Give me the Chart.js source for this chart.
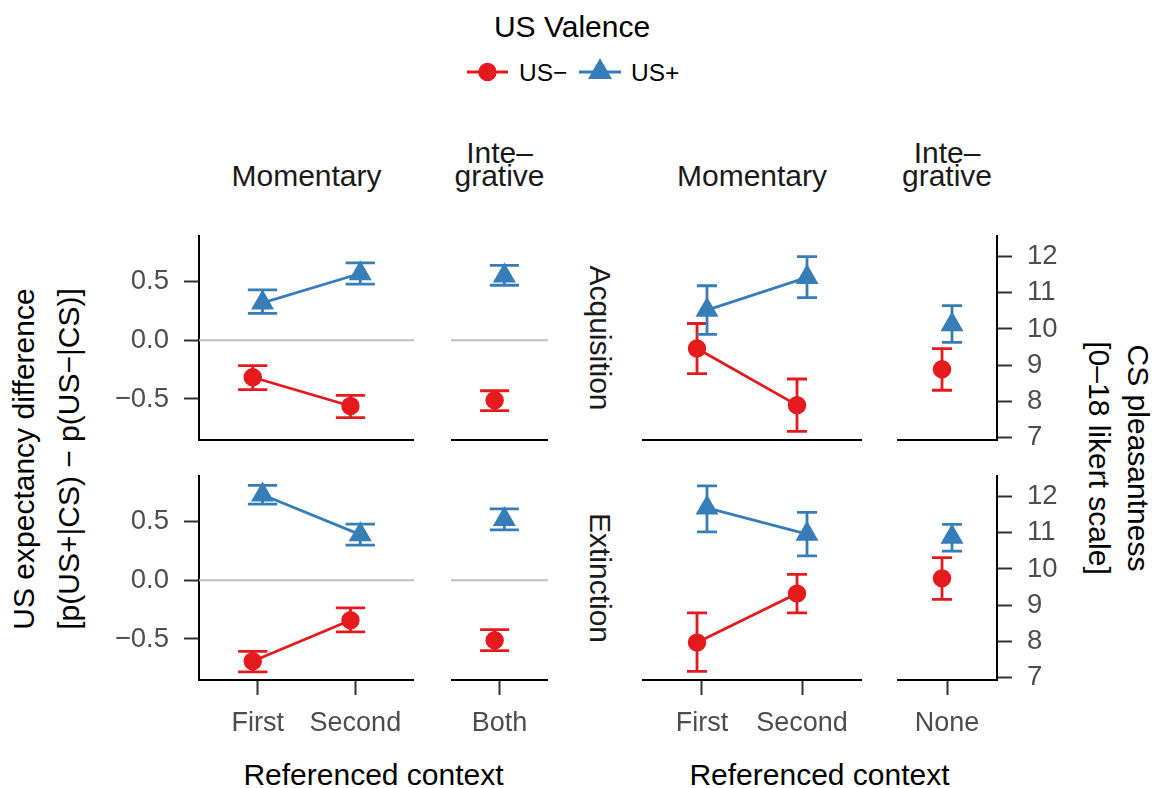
<!DOCTYPE html>
<html>
<head>
<meta charset="utf-8">
<script src="https://cdn.jsdelivr.net/npm/chart.js@4.4.1/dist/chart.umd.min.js"></script>
<style>
  body { margin: 0; background: #fff; width: 1154px; height: 788px; position: relative; overflow: hidden;
         font-family: "Liberation Sans", Arial, sans-serif; }
  .panel { position: absolute; }
  .txt { position: absolute; white-space: nowrap; }
</style>
</head>
<body>
<script>
// categories
const momentaryContexts = ['First', 'Second'];
const integrativeExpContexts = ['Both'];
const integrativePlsContexts = ['None'];
const seriesNames = ['US−', 'US+'];
const phases = ['Acquisition', 'Extinction'];

// US expectancy difference (mean, lower, upper) - Acquisition
const expAcqMomNeg = [-0.315, -0.56], expAcqMomNegLo = [-0.42, -0.66], expAcqMomNegHi = [-0.215, -0.47];
const expAcqMomPos = [0.32, 0.57],   expAcqMomPosLo = [0.23, 0.48],   expAcqMomPosHi = [0.43, 0.66];
const expAcqIntNeg = [-0.51],        expAcqIntNegLo = [-0.60],        expAcqIntNegHi = [-0.43];
const expAcqIntPos = [0.55],         expAcqIntPosLo = [0.47],         expAcqIntPosHi = [0.64];
// Extinction
const expExtMomNeg = [-0.69, -0.34], expExtMomNegLo = [-0.78, -0.44], expExtMomNegHi = [-0.605, -0.235];
const expExtMomPos = [0.73, 0.39],   expExtMomPosLo = [0.65, 0.30],   expExtMomPosHi = [0.81, 0.48];
const expExtIntNeg = [-0.51],        expExtIntNegLo = [-0.60],        expExtIntNegHi = [-0.42];
const expExtIntPos = [0.52],         expExtIntPosLo = [0.43],         expExtIntPosHi = [0.61];

// CS pleasantness (mean, lower, upper) - Acquisition
const plsAcqMomNeg = [9.46, 7.9],    plsAcqMomNegLo = [8.77, 7.18],   plsAcqMomNegHi = [10.15, 8.62];
const plsAcqMomPos = [10.52, 11.42], plsAcqMomPosLo = [9.85, 10.86],  plsAcqMomPosHi = [11.19, 11.99];
const plsAcqIntNeg = [8.89],         plsAcqIntNegLo = [8.31],         plsAcqIntNegHi = [9.46];
const plsAcqIntPos = [10.12],        plsAcqIntPosLo = [9.63],         plsAcqIntPosHi = [10.64];
// Extinction
const plsExtMomNeg = [7.97, 9.32],   plsExtMomNegLo = [7.18, 8.79],   plsExtMomNegHi = [8.79, 9.85];
const plsExtMomPos = [11.68, 10.96], plsExtMomPosLo = [11.02, 10.36], plsExtMomPosHi = [12.29, 11.56];
const plsExtIntNeg = [9.74],         plsExtIntNegLo = [9.16],         plsExtIntNegHi = [10.31];
const plsExtIntPos = [10.88],        plsExtIntPosLo = [10.49],        plsExtIntPosHi = [11.23];

// axis ranges / ticks
const expRange = [-0.85, 0.89], expStep = 0.5;
const plsRange = [6.94, 12.56], plsStep = 1;

const RED = '#E41A1C', BLUE = '#377EB8';
const FONT = '"Liberation Sans", Arial, sans-serif';
Chart.defaults.font.family = FONT;

// error bars + zero reference line, drawn with the chart's scales
const errorBars = {
  id: 'errorBars',
  beforeDatasetsDraw(chart, args, opts) {
    const { ctx, chartArea, scales: { x, y } } = chart;
    ctx.save();
    if (opts.zeroLine) {
      const y0 = y.getPixelForValue(0);
      ctx.strokeStyle = '#BEBEBE';
      ctx.lineWidth = 2;
      ctx.beginPath();
      ctx.moveTo(chartArea.left, y0);
      ctx.lineTo(chartArea.right, y0);
      ctx.stroke();
    }
    chart.data.datasets.forEach(ds => {
      ctx.strokeStyle = ds.borderColor;
      ctx.lineWidth = 2.8;
      ds.data.forEach((pt, i) => {
        const px = x.getPixelForValue(pt.x);
        const half = x.getPixelForValue(pt.x + opts.cap / 2) - px;
        const lo = y.getPixelForValue(ds.errLo[i]);
        const hi = y.getPixelForValue(ds.errHi[i]);
        ctx.beginPath();
        ctx.moveTo(px, lo); ctx.lineTo(px, hi);
        ctx.moveTo(px - half, lo); ctx.lineTo(px + half, lo);
        ctx.moveTo(px - half, hi); ctx.lineTo(px + half, hi);
        ctx.stroke();
      });
    });
    ctx.restore();
  }
};

const panels = [
  { rect: [199, 236, 414, 440], row: 0, cats: momentaryContexts, xr: [0.4, 2.6], y: 'exp', axis: 'left', cap: 0.3,
    neg: [expAcqMomNeg, expAcqMomNegLo, expAcqMomNegHi], pos: [expAcqMomPos, expAcqMomPosLo, expAcqMomPosHi] },
  { rect: [451, 236, 548, 440], row: 0, cats: integrativeExpContexts, xr: [0.5, 1.5], y: 'exp', axis: null, cap: 0.3,
    neg: [expAcqIntNeg, expAcqIntNegLo, expAcqIntNegHi], pos: [expAcqIntPos, expAcqIntPosLo, expAcqIntPosHi] },
  { rect: [642, 236, 862, 440], row: 0, cats: momentaryContexts, xr: [0.4, 2.6], y: 'pls', axis: null, cap: 0.2,
    neg: [plsAcqMomNeg, plsAcqMomNegLo, plsAcqMomNegHi], pos: [plsAcqMomPos, plsAcqMomPosLo, plsAcqMomPosHi] },
  { rect: [897, 236, 997, 440], row: 0, cats: integrativePlsContexts, xr: [0.5, 1.5], y: 'pls', axis: 'right', cap: 0.2,
    neg: [plsAcqIntNeg, plsAcqIntNegLo, plsAcqIntNegHi], pos: [plsAcqIntPos, plsAcqIntPosLo, plsAcqIntPosHi] },
  { rect: [199, 476, 414, 680], row: 1, cats: momentaryContexts, xr: [0.4, 2.6], y: 'exp', axis: 'left', cap: 0.3,
    neg: [expExtMomNeg, expExtMomNegLo, expExtMomNegHi], pos: [expExtMomPos, expExtMomPosLo, expExtMomPosHi] },
  { rect: [451, 476, 548, 680], row: 1, cats: integrativeExpContexts, xr: [0.5, 1.5], y: 'exp', axis: null, cap: 0.3,
    neg: [expExtIntNeg, expExtIntNegLo, expExtIntNegHi], pos: [expExtIntPos, expExtIntPosLo, expExtIntPosHi] },
  { rect: [642, 476, 862, 680], row: 1, cats: momentaryContexts, xr: [0.4, 2.6], y: 'pls', axis: null, cap: 0.2,
    neg: [plsExtMomNeg, plsExtMomNegLo, plsExtMomNegHi], pos: [plsExtMomPos, plsExtMomPosLo, plsExtMomPosHi] },
  { rect: [897, 476, 997, 680], row: 1, cats: integrativePlsContexts, xr: [0.5, 1.5], y: 'pls', axis: 'right', cap: 0.2,
    neg: [plsExtIntNeg, plsExtIntNegLo, plsExtIntNegHi], pos: [plsExtIntPos, plsExtIntPosLo, plsExtIntPosHi] }
];

function zeroPad(s) { s.paddingLeft = 0; s.paddingRight = 0; s.paddingTop = 0; s.paddingBottom = 0; }

function series(name, vals, color, style, radius, dodge) {
  return {
    label: name,
    data: vals[0].map((v, i) => ({ x: i + 1 + dodge, y: v })),
    errLo: vals[1], errHi: vals[2],
    borderColor: color, backgroundColor: color,
    borderWidth: 2.8,
    pointStyle: style, pointRadius: radius, pointHoverRadius: radius,
    pointBorderWidth: 0, pointBackgroundColor: color,
    clip: false, tension: 0
  };
}

panels.forEach(p => {
  const [x0, y0, x1, y1] = p.rect;
  const leftW = p.axis === 'left' ? 90 : 0;
  const rightW = p.axis === 'right' ? 62 : 0;
  const bottomH = p.row === 1 ? 62 : 24;
  const topPad = 14;
  const w = (x1 - x0) + leftW + rightW, h = (y1 - y0) + topPad + bottomH;

  const div = document.createElement('div');
  div.className = 'panel';
  div.style.left = (x0 - leftW) + 'px';
  div.style.top = (y0 - topPad) + 'px';
  const cv = document.createElement('canvas');
  cv.width = w; cv.height = h;
  cv.style.width = w + 'px'; cv.style.height = h + 'px';
  div.appendChild(cv);
  document.body.appendChild(div);

  const isExp = p.y === 'exp';
  const yr = isExp ? expRange : plsRange;

  new Chart(cv.getContext('2d'), {
    type: 'line',
    data: {
      datasets: [
        series(seriesNames[0], p.neg, RED, 'circle', 9.2, -0.05),
        series(seriesNames[1], p.pos, BLUE, 'triangle', 13.3, 0.05)
      ]
    },
    options: {
      responsive: false,
      animation: false,
      events: [],
      layout: { autoPadding: false, padding: { top: topPad, left: 0, right: 0, bottom: 0 } },
      plugins: {
        legend: { display: false },
        tooltip: { enabled: false },
        errorBars: { cap: p.cap, zeroLine: isExp }
      },
      scales: {
        x: {
          type: 'linear', position: 'bottom',
          min: p.xr[0], max: p.xr[1],
          afterBuildTicks: ax => { ax.ticks = p.cats.map((c, i) => ({ value: i + 1 })); },
          afterFit: ax => { ax.height = bottomH; zeroPad(ax); },
          border: { display: true, color: '#000', width: 2 },
          grid: { display: p.row === 1, drawOnChartArea: false, drawTicks: true, tickLength: 15, tickColor: '#333', tickWidth: 2 },
          ticks: {
            display: p.row === 1, padding: 12, color: '#4D4D4D', font: { size: 27 },
            autoSkip: false, maxRotation: 0,
            callback: v => p.cats[Math.round(v) - 1]
          }
        },
        y: {
          type: 'linear', position: p.axis === 'right' ? 'right' : 'left',
          display: p.axis !== null,
          min: yr[0], max: yr[1],
          afterFit: ax => { ax.width = p.axis === 'right' ? rightW : leftW; zeroPad(ax); },
          border: { display: true, color: '#000', width: 2 },
          grid: { drawOnChartArea: false, drawTicks: true, tickLength: 15, tickColor: '#333', tickWidth: 2 },
          ticks: {
            stepSize: isExp ? expStep : plsStep, includeBounds: false,
            padding: 15, color: '#4D4D4D', font: { size: 27.5 },
            callback: v => isExp ? (Math.abs(v) < 1e-9 ? '0.0' : v.toFixed(1).replace('-', '−')) : String(Math.round(v))
          }
        }
      }
    },
    plugins: [errorBars]
  });
});

// text helpers
function addText(str, x, baseline, size, align, color) {
  const d = document.createElement('div');
  d.className = 'txt';
  d.textContent = str;
  d.style.fontSize = size + 'px';
  d.style.lineHeight = size + 'px';
  d.style.top = (baseline - 0.8465 * size) + 'px';
  d.style.left = x + 'px';
  if (align !== 'left') d.style.transform = 'translateX(-50%)';
  d.style.color = color || '#000';
  document.body.appendChild(d);
}
function addRotated(str, cx, cy, size, deg, color) {
  const d = document.createElement('div');
  d.className = 'txt';
  d.textContent = str;
  d.style.fontSize = size + 'px';
  d.style.lineHeight = size + 'px';
  d.style.left = cx + 'px';
  d.style.top = cy + 'px';
  d.style.transform = 'translate(-50%, -50%) rotate(' + deg + 'deg)';
  d.style.color = color || '#000';
  document.body.appendChild(d);
}

// legend
addText('US Valence', 572, 37, 30);
const legendSvg = document.createElementNS('http://www.w3.org/2000/svg', 'svg');
legendSvg.setAttribute('width', 1154); legendSvg.setAttribute('height', 100);
legendSvg.style.position = 'absolute'; legendSvg.style.left = '0'; legendSvg.style.top = '0';
legendSvg.innerHTML =
  '<line x1="467" y1="72" x2="508" y2="72" stroke="' + RED + '" stroke-width="2.8"/>' +
  '<circle cx="487.5" cy="72" r="9.2" fill="' + RED + '"/>' +
  '<line x1="579" y1="72" x2="621" y2="72" stroke="' + BLUE + '" stroke-width="2.8"/>' +
  '<polygon points="600,58 612,79 588,79" fill="' + BLUE + '"/>';
document.body.appendChild(legendSvg);
addText(seriesNames[0], 519, 81.7, 24.5, 'left');
addText(seriesNames[1], 631, 81.7, 24.5, 'left');

// facet strips
const STRIP = '#1A1A1A';
addText('Momentary', 306.5, 186.7, 30, 'center', STRIP);
addText('Inte–', 499.5, 163.2, 30, 'center', STRIP);
addText('grative', 499.5, 186.7, 30, 'center', STRIP);
addText('Momentary', 752, 186.7, 30, 'center', STRIP);
addText('Inte–', 947, 163.2, 30, 'center', STRIP);
addText('grative', 947, 186.7, 30, 'center', STRIP);
addRotated(phases[0], 600, 338, 30, 90, STRIP);
addRotated(phases[1], 600, 578, 30, 90, STRIP);

// axis titles
addText('Referenced context', 373.5, 785, 30);
addText('Referenced context', 819.5, 785, 30);
addRotated('US expectancy difference', 24.2, 459, 30, -90);
addRotated('[p(US+|CS) − p(US−|CS)]', 69.2, 459, 30, -90);
addRotated('CS pleasantness', 1137.5, 458, 30, 90);
addRotated('[0–18 likert scale]', 1099, 458, 30, 90);
</script>
</body>
</html>
